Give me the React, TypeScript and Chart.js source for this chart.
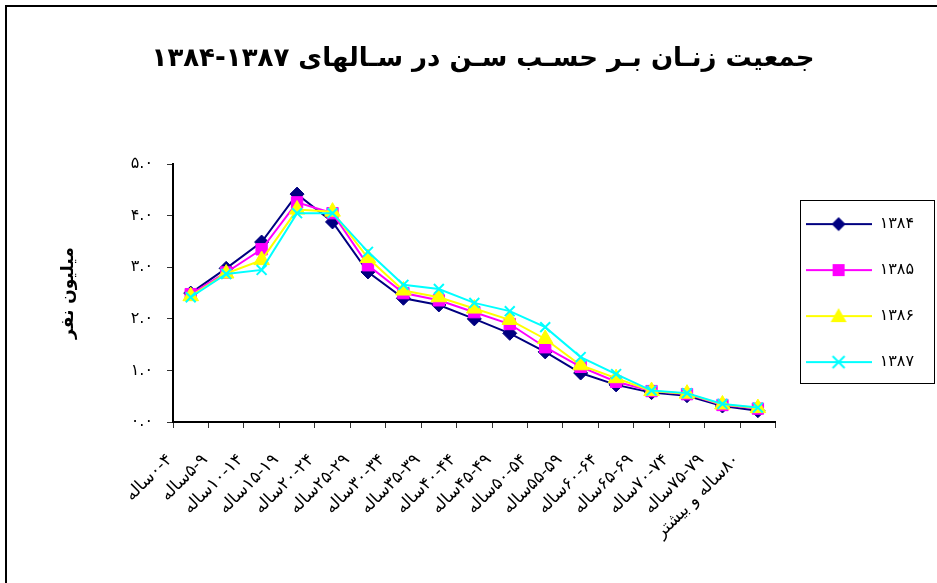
import React, { useEffect, useRef } from "react";
import { Chart, registerables } from "chart.js";

Chart.register(...registerables);

const FONT = "'DejaVu Sans', sans-serif";

// Age groups (categories)
const ageGroups = [
  "۰-۴ساله",
  "۵-۹ساله",
  "۱۰-۱۴ساله",
  "۱۵-۱۹ساله",
  "۲۰-۲۴ساله",
  "۲۵-۲۹ساله",
  "۳۰-۳۴ساله",
  "۳۵-۳۹ساله",
  "۴۰-۴۴ساله",
  "۴۵-۴۹ساله",
  "۵۰-۵۴ساله",
  "۵۵-۵۹ساله",
  "۶۰-۶۴ساله",
  "۶۵-۶۹ساله",
  "۷۰-۷۴ساله",
  "۷۵-۷۹ساله",
  "۸۰ساله و بیشتر",
];

// Female population (million) per year
const values1384 = [2.5, 2.98, 3.49, 4.42, 3.88, 2.91, 2.4, 2.27, 2.0, 1.72, 1.36, 0.95, 0.72, 0.57, 0.51, 0.31, 0.22];
const values1385 = [2.48, 2.9, 3.35, 4.26, 4.05, 3.04, 2.5, 2.36, 2.13, 1.9, 1.45, 1.07, 0.78, 0.6, 0.54, 0.33, 0.26];
const values1386 = [2.44, 2.88, 3.14, 4.12, 4.08, 3.18, 2.55, 2.42, 2.2, 1.98, 1.61, 1.1, 0.85, 0.6, 0.55, 0.34, 0.27];
const values1387 = [2.42, 2.87, 2.95, 4.05, 4.05, 3.3, 2.66, 2.58, 2.31, 2.15, 1.84, 1.26, 0.93, 0.61, 0.56, 0.35, 0.28];

const seriesNames = ["۱۳۸۴", "۱۳۸۵", "۱۳۸۶", "۱۳۸۷"];
const seriesColors = ["#000080", "#FF00FF", "#FFFF00", "#00FFFF"];
const seriesMarkers = ["rectRot", "rect", "triangle", "crossRot"];
const seriesRadius = [7, 8, 9, 7];

const chartTitle = "جمعیت زنـان بـر حسـب سـن در سـالهای ۱۳۸۷-۱۳۸۴";
const yAxisTitle = "میلیون نفر";

const persianDigits = "۰۱۲۳۴۵۶۷۸۹";
const toPersian = (s: string) => s.replace(/[0-9]/g, (d) => persianDigits[Number(d)]);

function makeSwatch(color: string, marker: string): HTMLCanvasElement {
  const c = document.createElement("canvas");
  c.width = 66;
  c.height = 20;
  const g = c.getContext("2d")!;
  const cx = 33;
  const cy = 10;
  g.strokeStyle = color;
  g.fillStyle = color;
  g.lineWidth = 2;
  g.beginPath();
  g.moveTo(0, cy);
  g.lineTo(66, cy);
  g.stroke();
  g.beginPath();
  if (marker === "rectRot") {
    g.moveTo(cx, cy - 7);
    g.lineTo(cx + 7, cy);
    g.lineTo(cx, cy + 7);
    g.lineTo(cx - 7, cy);
    g.closePath();
    g.fill();
  } else if (marker === "rect") {
    g.rect(cx - 6, cy - 6, 12, 12);
    g.fill();
  } else if (marker === "triangle") {
    g.moveTo(cx, cy - 8);
    g.lineTo(cx + 8, cy + 6);
    g.lineTo(cx - 8, cy + 6);
    g.closePath();
    g.fill();
  } else {
    g.moveTo(cx - 6, cy - 6);
    g.lineTo(cx + 6, cy + 6);
    g.moveTo(cx + 6, cy - 6);
    g.lineTo(cx - 6, cy + 6);
    g.stroke();
  }
  return c;
}

const framePlugin = {
  id: "frameAndLegendBox",
  beforeDraw(chart: any) {
    const ctx = chart.ctx;
    ctx.save();
    ctx.fillStyle = "#ffffff";
    ctx.fillRect(0, 0, chart.width, chart.height);
    ctx.strokeStyle = "#000000";
    ctx.lineWidth = 2;
    ctx.strokeRect(6, 6, chart.width + 40, chart.height + 40);
    ctx.restore();
  },
  afterDraw(chart: any) {
    const lg = chart.legend;
    if (!lg || !lg.legendHitBoxes || !lg.legendHitBoxes.length) return;
    const boxes = lg.legendHitBoxes;
    let l = Infinity, t = Infinity, r = -Infinity, b = -Infinity;
    for (const h of boxes) {
      l = Math.min(l, h.left);
      t = Math.min(t, h.top);
      r = Math.max(r, h.left + h.width);
      b = Math.max(b, h.top + h.height);
    }
    const ctx = chart.ctx;
    ctx.save();
    ctx.strokeStyle = "#000000";
    ctx.lineWidth = 1;
    ctx.strokeRect(Math.round(l - 6) + 0.5, Math.round(t - 16) + 0.5, Math.round(r - l + 26), Math.round(b - t + 29));
    ctx.restore();
  },
};

export default function App() {
  const canvasRef = useRef<HTMLCanvasElement | null>(null);

  useEffect(() => {
    const canvas = canvasRef.current;
    if (!canvas) return;
    const allValues = [values1384, values1385, values1386, values1387];
    const swatches = seriesColors.map((c, i) => makeSwatch(c, seriesMarkers[i]));

    const chart = new Chart(canvas, {
      type: "line",
      data: {
        labels: ageGroups,
        datasets: allValues.map((vals, i) => ({
          label: seriesNames[i],
          data: vals,
          borderColor: seriesColors[i],
          backgroundColor: seriesColors[i],
          borderWidth: 2,
          pointStyle: seriesMarkers[i] as any,
          pointRadius: seriesRadius[i],
          pointBorderWidth: seriesMarkers[i] === "crossRot" ? 2 : 1,
          pointBackgroundColor: seriesColors[i],
          pointBorderColor: seriesColors[i],
          tension: 0,
          fill: false,
          order: allValues.length - 1 - i,
        })),
      },
      options: {
        responsive: false,
        animation: false,
        events: [],
        layout: { padding: { left: 42, top: 0, right: 13, bottom: 0 } },
        plugins: {
          title: {
            display: true,
            text: chartTitle,
            color: "#000",
            font: { family: FONT, size: 26, weight: "bold" },
            padding: { top: 44, bottom: 89 },
          },
          legend: {
            display: true,
            position: "right",
            fullSize: false,
            labels: {
              usePointStyle: true,
              pointStyleWidth: 66,
              padding: 30,
              color: "#000",
              font: { family: FONT, size: 16 },
              generateLabels: (ch: any) =>
                ch.data.datasets.map((ds: any, i: number) => ({
                  text: ds.label,
                  fillStyle: ds.backgroundColor,
                  strokeStyle: ds.borderColor,
                  lineWidth: 0,
                  pointStyle: swatches[i],
                  hidden: false,
                  datasetIndex: i,
                  fontColor: "#000",
                })),
            },
          },
          tooltip: { enabled: false },
        },
        scales: {
          x: {
            type: "category",
            offset: true,
            afterFit: (scale: any) => {
              scale.height = 161;
            },
            grid: {
              offset: true,
              drawOnChartArea: false,
              drawTicks: true,
              tickLength: 6,
              color: "#333",
              lineWidth: 1,
            },
            border: { display: true, color: "#000", width: 2 },
            ticks: {
              autoSkip: false,
              minRotation: 45,
              maxRotation: 45,
              padding: 22,
              labelOffset: -21,
              color: "#000",
              font: { family: FONT, size: 17 },
            },
          },
          y: {
            min: 0,
            max: 5,
            afterFit: (scale: any) => {
              scale.width = 131;
            },
            grid: {
              drawOnChartArea: false,
              drawTicks: true,
              tickLength: 6,
              color: "#333",
              lineWidth: 1,
            },
            border: { display: true, color: "#000", width: 2 },
            ticks: {
              stepSize: 1,
              padding: 14,
              color: "#000",
              font: { family: FONT, size: 16 },
              callback: (v: any) => toPersian(Number(v).toFixed(1)),
            },
            title: {
              display: true,
              text: yAxisTitle,
              color: "#000",
              font: { family: FONT, size: 17, weight: "bold" },
              padding: { top: 16, bottom: 10 },
            },
          },
        },
      },
      plugins: [framePlugin],
    } as any);

    return () => {
      chart.destroy();
    };
  }, []);

  return (
    <div style={{ position: "fixed", left: 0, top: 0, width: 937, height: 583, background: "#fff" }}>
      <canvas ref={canvasRef} width={937} height={583} dir="rtl" style={{ display: "block" }} />
    </div>
  );
}
